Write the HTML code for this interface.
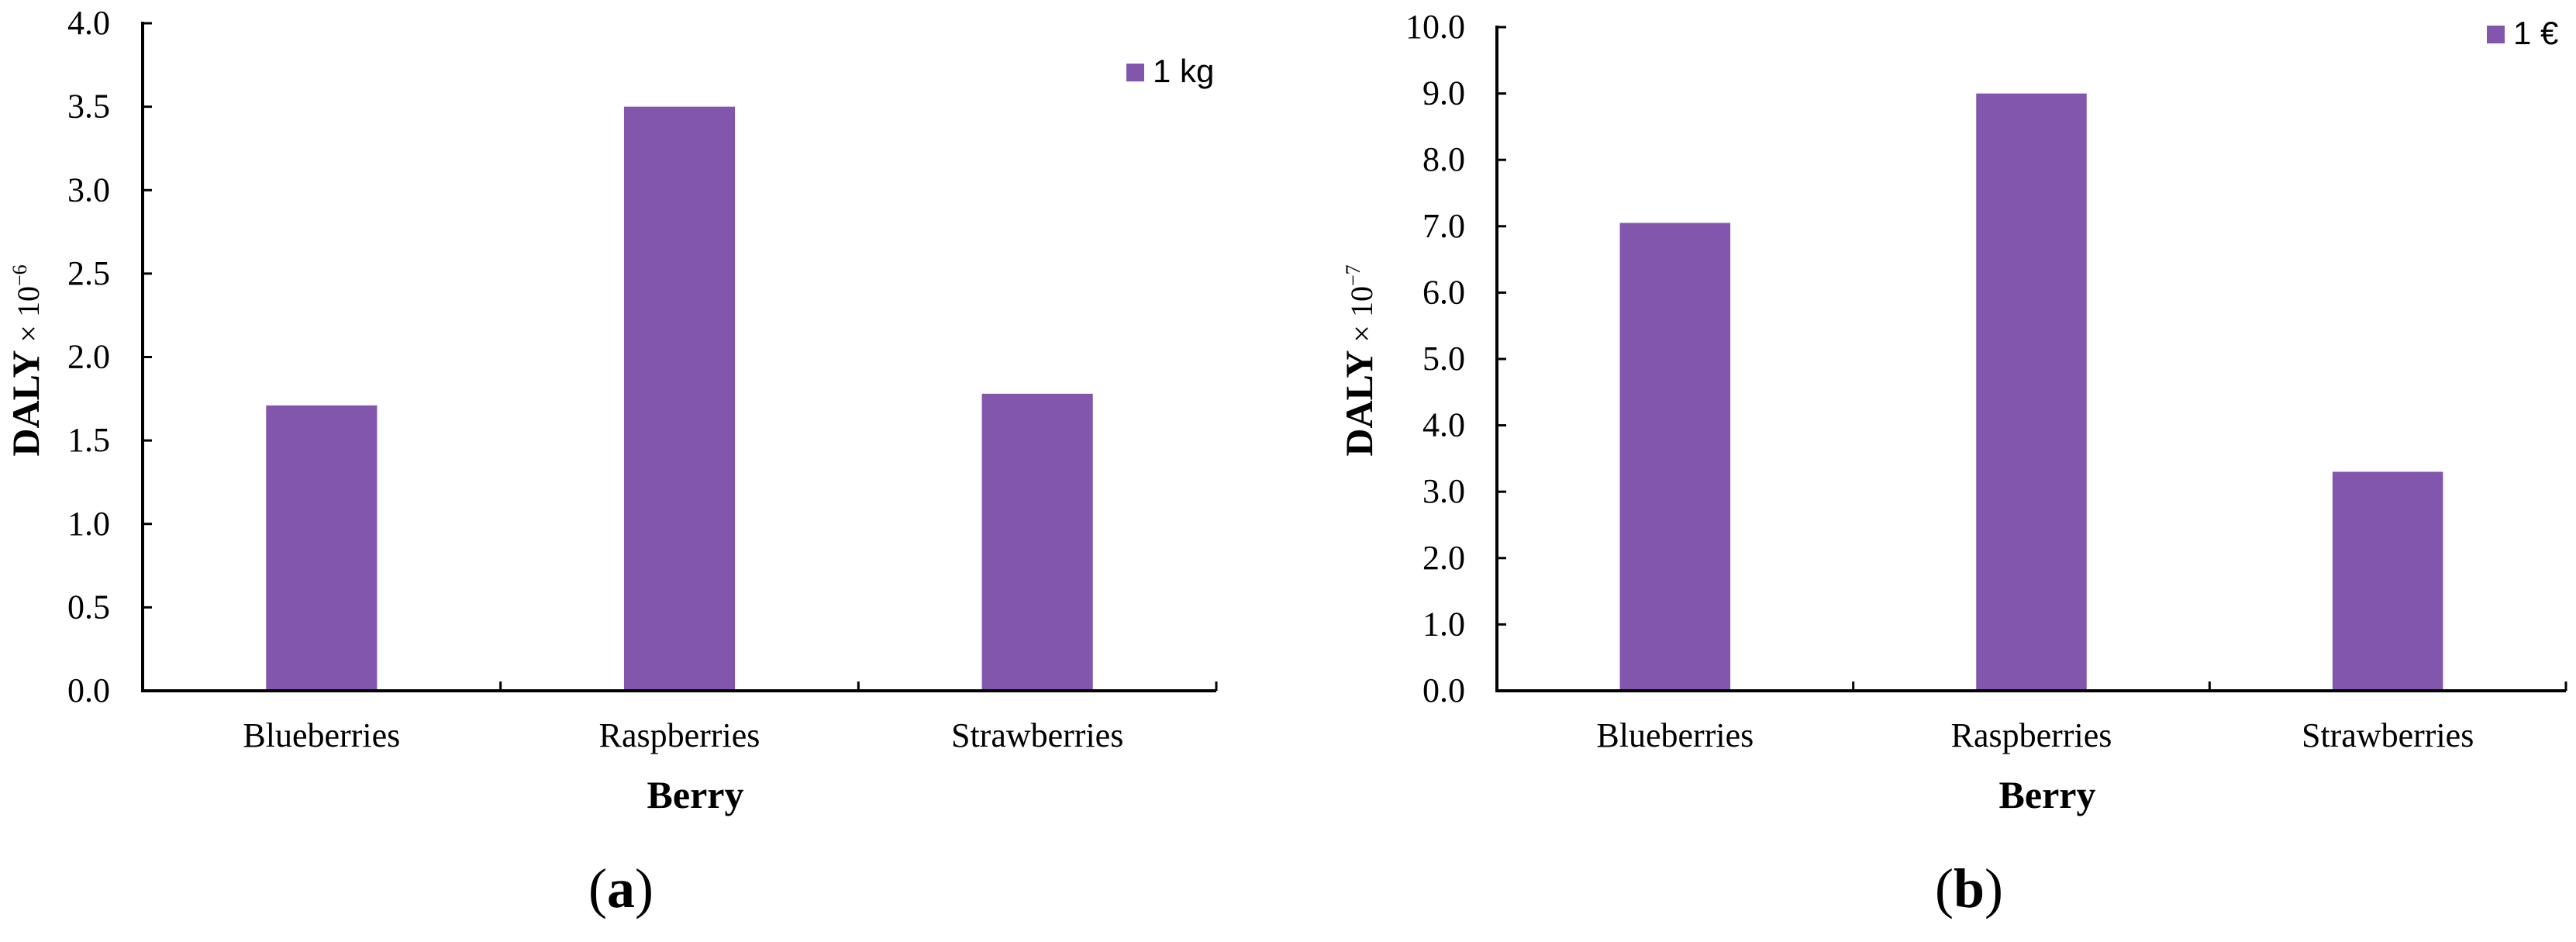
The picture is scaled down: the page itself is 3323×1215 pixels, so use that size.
<!DOCTYPE html>
<html><head><meta charset="utf-8"><style>
html,body{margin:0;padding:0;background:#fff;}
svg{display:block;}
text{font-family:"Liberation Serif",serif;fill:#000;}
</style></head><body>
<svg id="fig" width="3323" height="1215" viewBox="0 0 3323 1215" xmlns="http://www.w3.org/2000/svg"></svg>
<script>
const categories = ["Blueberries","Raspberries","Strawberries"];
const valuesA = [1.71, 3.5, 1.78];
const valuesB = [7.05, 9.0, 3.3];
const ticksA = [0,0.5,1,1.5,2,2.5,3,3.5,4];
const ticksB = [0,1,2,3,4,5,6,7,8,9,10];
const NS = "http://www.w3.org/2000/svg";
const svg = document.getElementById('fig');
function mk(tag, attrs, parent){
  const e = document.createElementNS(NS, tag);
  for (const k in attrs) e.setAttribute(k, attrs[k]);
  (parent||svg).appendChild(e);
  return e;
}
function chart(cfg){
  const g = mk('g', {});
  
  
  const x0=cfg.x0, x1=cfg.x1, yTop=cfg.yTop, yZero=cfg.yZero;
  const vmax=cfg.ticks[cfg.ticks.length-1];
  const yS = v => yZero - (v/vmax)*(yZero-yTop);
  const bandW = (x1-x0)/cfg.cats.length;
  const xS = i => x0 + bandW*(i+0.5);
  cfg.vals.forEach((v,i)=>{
    const bw = bandW*0.31;
    const r = mk('rect',{x:xS(i)-bw/2,y:yS(v),width:bw,height:yZero-yS(v),fill:'#8356ae'},g);
    
    
  });
  const ya = mk('line',{x1:x0,y1:yTop-2,x2:x0,y2:yZero+2,stroke:'#000','stroke-width':4},g);
  
  
  const xa = mk('line',{x1:x0-2,y1:yZero,x2:x1,y2:yZero,stroke:'#000','stroke-width':4},g);
  
  
  cfg.ticks.forEach(t=>{
    mk('line',{x1:x0,y1:yS(t),x2:x0+12,y2:yS(t),stroke:'#000','stroke-width':3},g);
    const tl = mk('text',{x:cfg.labelRight,y:yS(t)+14,'text-anchor':'end','font-size':44},g);
    tl.textContent = t.toFixed(1);
    
    
  });
  for(let i=1;i<=cfg.cats.length;i++){
    mk('line',{x1:x0+bandW*i,y1:yZero,x2:x0+bandW*i,y2:yZero-12,stroke:'#000','stroke-width':3},g);
  }
  cfg.cats.forEach((c,i)=>{
    const t = mk('text',{x:xS(i),y:963,'text-anchor':'middle','font-size':44},g);
    t.textContent = c;
    
    
  });
  const xt = mk('text',{x:cfg.berryX,y:1042,'text-anchor':'middle','font-size':50,'font-weight':'bold'},g);
  xt.textContent='Berry';
  
  
  const yt = mk('text',{transform:`translate(${cfg.ytX},465) rotate(-90)`,'text-anchor':'middle'},g);
  
  
  yt.innerHTML = `<tspan font-weight="bold" font-size="50">DALY</tspan><tspan font-size="40"> × 10</tspan><tspan font-size="26" dy="-16">${cfg.exp}</tspan>`;
  const lr = mk('rect',{x:cfg.legX,y:cfg.legY,width:23,height:23,fill:'#8356ae'},g);
  
  
  const lt = mk('text',{x:cfg.legX+34,y:cfg.legY+24,'font-size':42,style:'font-family:"Liberation Sans",sans-serif'},g);
  lt.textContent = cfg.legend;
  
  
  const cap = mk('text',{x:cfg.capX,y:1170,'text-anchor':'middle','font-size':72},g);
  cap.innerHTML = cfg.cap;
  
  
}
chart({name:'chart-a',cats:categories,vals:valuesA,ticks:ticksA,x0:184,x1:1569,yTop:30,yZero:891,labelRight:142,berryX:897,ytX:50,exp:'−6',legX:1453,legY:82,legend:'1 kg',capX:801,cap:'(<tspan font-weight="bold">a</tspan>)'});
chart({name:'chart-b',cats:categories,vals:valuesB,ticks:ticksB,x0:1931,x1:3310,yTop:35,yZero:891,labelRight:1890,berryX:2641,ytX:1770,exp:'−7',legX:3208,legY:33,legend:'1 €',capX:2540,cap:'(<tspan font-weight="bold">b</tspan>)'});
</script>
</body></html>
